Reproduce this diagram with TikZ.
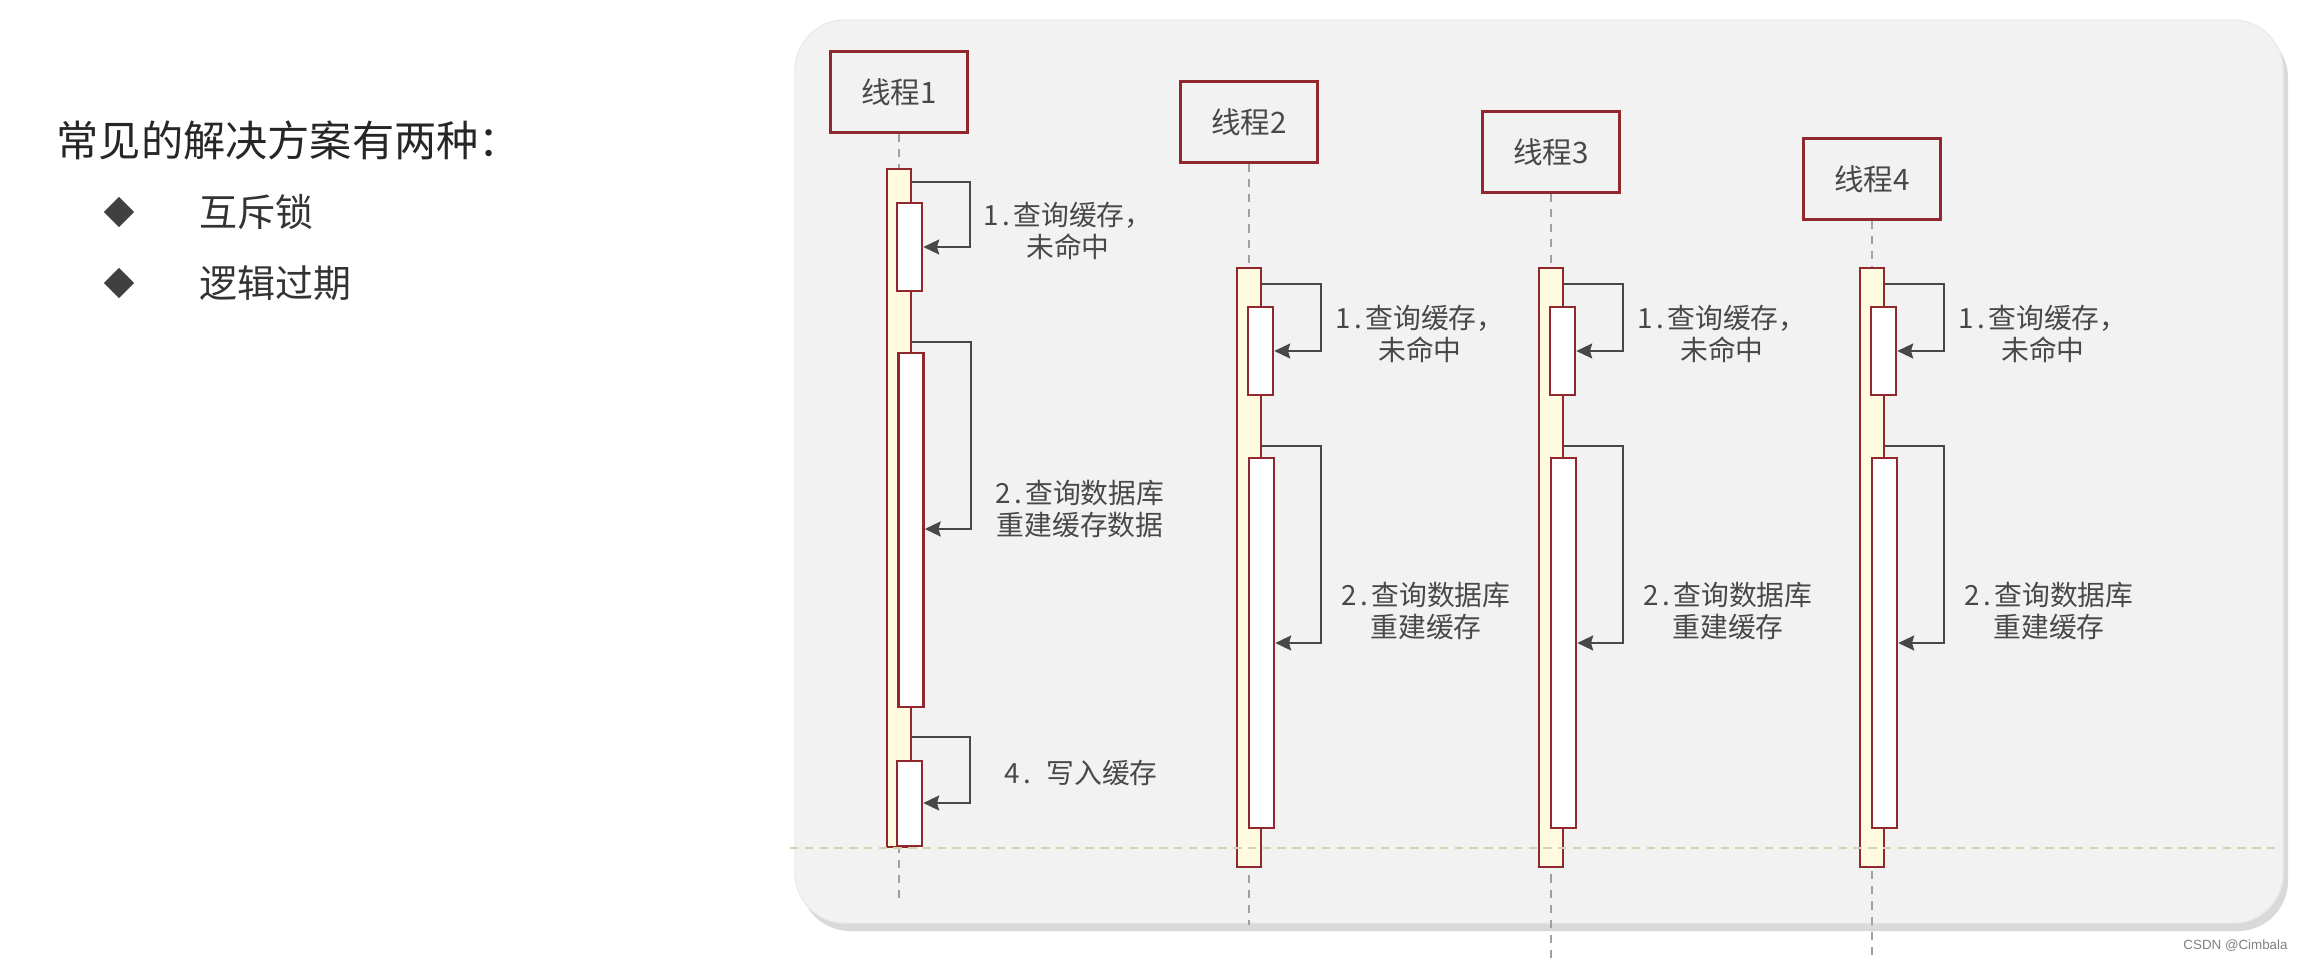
\documentclass[tikz,border=0pt]{standalone}
\usepackage{fontspec}
\setmainfont{Noto Sans CJK SC}
\newfontfamily\wmfont{Liberation Sans}
\usetikzlibrary{arrows.meta,shapes.geometric,shadows}
\definecolor{panelbg}{RGB}{242,242,242}
\definecolor{boxred}{RGB}{145,40,45}
\definecolor{barfill}{RGB}{255,250,224}
\definecolor{linegray}{RGB}{72,72,72}
\definecolor{txtgray}{RGB}{72,72,72}
\definecolor{lifegray}{RGB}{160,160,160}
\definecolor{khaki}{RGB}{212,212,180}
\newcommand{\stepno}[1]{#1\hspace{0.12em}.\hspace{0.12em}}

\begin{document}
\begin{tikzpicture}[x=0.01cm, y=-0.01cm,
    thread/.style={draw=boxred, line width=0.85pt, fill=panelbg,
                   minimum width=1.37cm, minimum height=0.81cm,
                   font=\fontsize{8.4}{10}\selectfont, text=txtgray},
    actbar/.style={draw=boxred, line width=0.7pt, fill=barfill,
                   minimum width=0.24cm, inner sep=0pt},
    subbar/.style={draw=boxred, line width=0.7pt, fill=white,
                   minimum width=0.25cm, inner sep=0pt},
    msg/.style={draw=linegray, line width=0.8pt,
                -{Stealth[length=4.5pt, width=4.2pt, inset=0.6pt]}},
    lbl/.style={font=\fontsize{7.9}{9.1}\selectfont, text=txtgray,
                align=center, inner sep=0pt},
    life/.style={draw=lifegray, line width=0.6pt, dash pattern=on 2.3pt off 2pt},
    bullet/.style={diamond, fill=black!75, minimum size=0.31cm, inner sep=0pt},
    option/.style={anchor=west, inner sep=0pt, font=\fontsize{10.8}{12}\selectfont,
                   text=black!80}
]
    \useasboundingbox (0,0) rectangle (2315,961);
    % Panel behind the threads
    \path[fill=panelbg, draw=black!8, rounded corners=0.5cm,
          drop shadow={shadow xshift=0.5mm, shadow yshift=-0.8mm, opacity=0.3}]
        (795,20) rectangle (2283,923);

    % Left column
    \node[anchor=west, inner sep=0pt, font=\fontsize{12}{14}\selectfont, text=black!85]
        (title) at (56,140) {常见的解决方案有两种：};
    \node[bullet] (d1) at (119,212) {};
    \node[option] (opt1) at (199,212) {互斥锁};
    \node[bullet] (d2) at (119,283) {};
    \node[option] (opt2) at (199,283) {逻辑过期};

    % Thread 1 (x=899)
    \node[thread] (t1) at (899,92) {线程1};
    \coordinate (e1) at (899,900);
    \draw[life] (t1.south) -- (e1);
    \node[actbar, minimum height=6.78cm] (o1) at (899,508) {};
    \node[subbar, minimum height=0.88cm] (a1) at (909.5,247) {};
    \node[subbar, minimum height=3.54cm] (b1) at (911,530) {};
    \node[subbar, minimum height=0.85cm] (c1) at (909.5,803.5) {};
    \draw[msg] (o1.east |- 0,182) -- (970,182) |- (a1.east |- 0,247);
    \draw[msg] (o1.east |- 0,342) -- (971,342) |- (b1.east |- 0,529);
    \draw[msg] (o1.east |- 0,737) -- (970,737) |- (c1.east |- 0,803);
    \node[lbl] (m11) at (1068,231) {\stepno{1}查询缓存，\\未命中};
    \node[lbl] (m12) at (1080,509) {\stepno{2}查询数据库\\重建缓存数据};
    \node[lbl] (m14) at (1081,773) {\stepno{4}\ \ 写入缓存};

    % Threads 2-4
    \foreach \n/\c/\ty/\ey in {2/1249/122/925, 3/1551/152/961, 4/1872/179/961} {
        \node[thread] (t\n) at (\c,\ty) {线程\n};
        \coordinate (e\n) at (\c,\ey);
        \draw[life] (t\n.south) -- (e\n);
        \node[actbar, minimum height=5.99cm] (o\n) at (\c,567.5) {};
        \node[subbar, minimum height=0.88cm] (a\n) at (\c+11.5,351) {};
        \node[subbar, minimum height=3.70cm] (b\n) at (\c+12.5,643) {};
        \draw[msg] (o\n.east |- 0,284) -- (\c+72,284) |- (a\n.east |- 0,351);
        \draw[msg] (o\n.east |- 0,446) -- (\c+72,446) |- (b\n.east |- 0,643);
        \node[lbl] (m\n1) at (\c+171,334) {\stepno{1}查询缓存，\\未命中};
        \node[lbl] (m\n2) at (\c+177,611) {\stepno{2}查询数据库\\重建缓存};
    }

    % Dashed marker across the panel
    \coordinate (hl) at (790,848);
    \coordinate (hr) at (2275,848);
    \draw[khaki, line width=0.7pt, dash pattern=on 2.4pt off 1.8pt] (hl) -- (hr);

    \node[anchor=east, font=\wmfont\fontsize{3.8}{4}\selectfont, text=black!50] (wm)
        at (2300,946) {CSDN @Cimbala};
\end{tikzpicture}
\end{document}
